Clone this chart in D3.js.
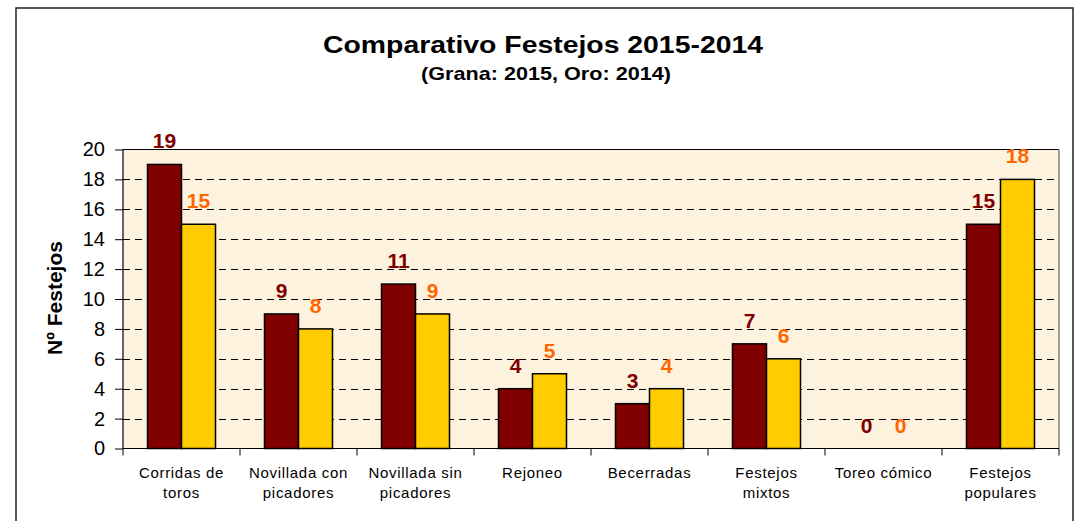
<!DOCTYPE html>
<html><head><meta charset="utf-8">
<script src="https://cdn.jsdelivr.net/npm/d3@7"></script>
<style>
html,body{margin:0;padding:0;background:#fff;}
svg{display:block;font-family:Arial,"Liberation Sans",sans-serif;}
</style></head>
<body>
<svg id="chart" width="1079" height="521"></svg>
<script>
const categories = ["Corridas de|toros","Novillada con|picadores","Novillada sin|picadores","Rejoneo","Becerradas","Festejos|mixtos","Toreo cómico","Festejos|populares"];
const series = ["2015","2014"];
const values2015 = [19,9,11,4,3,7,0,15];
const values2014 = [15,8,9,5,4,6,0,18];
const yTicks = [0,2,4,6,8,10,12,14,16,18,20];
const barColors = {"2015":"#800000","2014":"#FFCC00"};
const labelColors = {"2015":"#800000","2014":"#FF6600"};

const svg = d3.select("#chart");
const plot = {left:123, right:1059, top:149.5, bottom:448.5};

// outer frame
svg.append("rect").attr("x",16).attr("y",8).attr("width",1073-16).attr("height",540)
  .attr("fill","#fff").attr("stroke","#222").attr("stroke-width",1.5);

// titles
svg.append("text").attr("x",543).attr("y",53).attr("text-anchor","middle")
  .attr("font-size",23).attr("font-weight","bold")
  .attr("textLength",440).attr("lengthAdjust","spacingAndGlyphs")
  .text("Comparativo Festejos 2015-2014");
svg.append("text").attr("x",546).attr("y",80).attr("text-anchor","middle")
  .attr("font-size",19).attr("font-weight","bold")
  .attr("textLength",250).attr("lengthAdjust","spacingAndGlyphs")
  .text("(Grana: 2015, Oro: 2014)");

const x0 = d3.scaleBand().domain(categories).range([plot.left, plot.right])
  .paddingInner(49/117).paddingOuter(24.5/117);
const x1 = d3.scaleBand().domain(series).range([0, x0.bandwidth()]);
const y = d3.scaleLinear().domain([0,20]).range([plot.bottom, plot.top]);

// plot background
svg.append("rect").attr("x",plot.left).attr("y",plot.top)
  .attr("width",plot.right-plot.left).attr("height",plot.bottom-plot.top)
  .attr("fill","#FCF2DD");

// gridlines
svg.append("g").selectAll("line").data(yTicks.filter(t=>t>0 && t<20)).join("line")
  .attr("x1",plot.left).attr("x2",plot.right)
  .attr("y1",d=>Math.round(y(d))+0.5).attr("y2",d=>Math.round(y(d))+0.5)
  .attr("stroke","#000").attr("stroke-width",1).attr("stroke-dasharray","7,5");

// plot border top & right
svg.append("line").attr("x1",plot.left).attr("x2",plot.right).attr("y1",plot.top).attr("y2",plot.top)
  .attr("stroke","#000").attr("stroke-width",1.2);
svg.append("line").attr("x1",plot.right).attr("x2",plot.right).attr("y1",plot.top).attr("y2",plot.bottom)
  .attr("stroke","#808080").attr("stroke-width",1.5);

// bars
const data = categories.map((c,i)=>({cat:c, vals:[{s:"2015",v:values2015[i]},{s:"2014",v:values2014[i]}]}));
const groups = svg.append("g").selectAll("g").data(data).join("g")
  .attr("transform",d=>`translate(${x0(d.cat)},0)`);
groups.selectAll("rect").data(d=>d.vals.filter(e=>e.v>0)).join("rect")
  .attr("x",d=>x1(d.s)).attr("width",x1.bandwidth())
  .attr("y",d=>y(d.v)).attr("height",d=>y(0)-y(d.v))
  .attr("fill",d=>barColors[d.s]).attr("stroke","#000").attr("stroke-width",1.5);
groups.selectAll("text").data(d=>d.vals).join("text")
  .attr("x",d=>x1(d.s)+x1.bandwidth()/2).attr("y",d=>y(d.v)-16)
  .attr("text-anchor","middle").attr("font-size",21).attr("font-weight","bold")
  .attr("fill",d=>labelColors[d.s]).text(d=>d.v);

// y axis
const yAxis = svg.append("g").attr("transform",`translate(${plot.left},0)`)
  .call(d3.axisLeft(y).tickValues(yTicks).tickSize(8).tickPadding(10));
yAxis.select(".domain").attr("stroke","#000").attr("stroke-width",1.2).attr("d",`M0,${plot.top}V${plot.bottom}`);
yAxis.selectAll(".tick line").attr("stroke","#000");
yAxis.selectAll(".tick text").attr("font-size",20).attr("font-family","Arial,'Liberation Sans',sans-serif").attr("fill","#000");

// x axis line and boundary ticks
svg.append("line").attr("x1",plot.left).attr("x2",plot.right).attr("y1",plot.bottom).attr("y2",plot.bottom)
  .attr("stroke","#000").attr("stroke-width",1.2);
const step = x0.step();
const bounds = categories.map(c=>x0(c)-step*x0.paddingInner()/2).concat([x0(categories[categories.length-1])+x0.bandwidth()+step*x0.paddingInner()/2]);
svg.append("g").selectAll("line").data(bounds).join("line")
  .attr("x1",d=>d).attr("x2",d=>d).attr("y1",plot.bottom).attr("y2",plot.bottom+7)
  .attr("stroke","#000").attr("stroke-width",1);

// x labels
svg.append("g").selectAll("text").data(categories).join("text")
  .attr("x",d=>x0(d)+x0.bandwidth()/2).attr("y",477.5)
  .attr("text-anchor","middle").attr("font-size",15).attr("letter-spacing","0.7px").attr("fill","#000")
  .each(function(d){
    const lines=d.split("|"); const t=d3.select(this);
    lines.forEach((l,i)=>t.append("tspan").attr("x",x0(d)+x0.bandwidth()/2).attr("dy",i?20:0).text(l));
  });

// y title
svg.append("text").attr("transform","translate(62,298) rotate(-90)").attr("text-anchor","middle")
  .attr("font-size",21).attr("font-weight","bold").text("Nº Festejos");
</script>
</body></html>
